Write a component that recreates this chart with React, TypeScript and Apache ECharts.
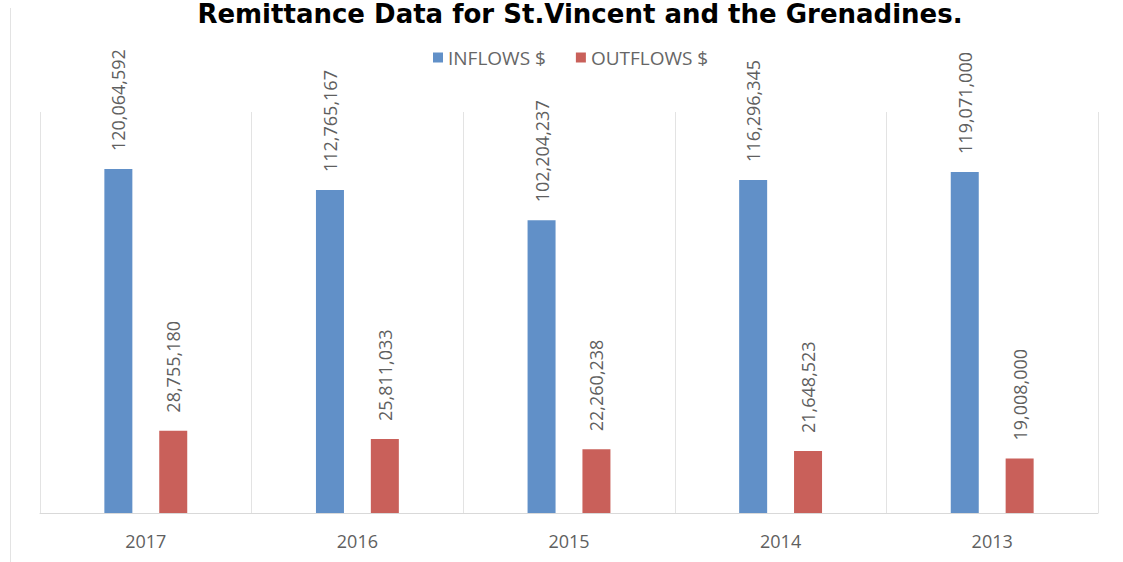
import React, { useEffect, useRef } from "react";
import * as echarts from "echarts";

const categories = ["2017", "2016", "2015", "2014", "2013"];
const inflows = [120064592, 112765167, 102204237, 116296345, 119071000];
const outflows = [28755180, 25811033, 22260238, 21648523, 19008000];
const seriesNames = ["INFLOWS $", "OUTFLOWS $"];
const titleText = "Remittance Data for St.Vincent and the Grenadines.";

const fmt = (v: number) => v.toLocaleString("en-US");

export default function App() {
  const ref = useRef<HTMLDivElement>(null);
  useEffect(() => {
    document.body.style.margin = "0";
    const chart = echarts.init(ref.current!, undefined, { renderer: "svg" });
    const labelStyle = {
      show: true,
      position: "top" as const,
      rotate: 90,
      align: "left",
      verticalAlign: "middle",
      distance: 18,
      color: "#5f5f5f",
      fontFamily: "Open Sans",
      fontSize: 18,
      formatter: (p: any) => fmt(p.value),
    };
    chart.setOption({
      animation: false,
      backgroundColor: "#ffffff",
      graphic: [
        {
          type: "text",
          style: {
            text: titleText,
            x: 580,
            y: 1,
            align: "center",
            verticalAlign: "top",
            fontFamily: "DejaVu Sans",
            fontWeight: "bold",
            fontSize: 26,
            fill: "#000000",
          },
        },
        {
          type: "line",
          shape: { x1: 10.5, y1: 8, x2: 10.5, y2: 562 },
          style: { stroke: "#e3e3e3", lineWidth: 1 },
        },
      ],
      legend: {
        data: seriesNames,
        left: 428,
        top: 43,
        icon: "rect",
        itemWidth: 10,
        itemHeight: 10,
        itemGap: 30,
        textStyle: { color: "#666666", fontFamily: "Open Sans", fontSize: 19 },
      },
      grid: { left: 40, right: 25, top: 112, bottom: 49 },
      xAxis: {
        type: "category",
        data: categories,
        axisLine: { lineStyle: { color: "#d9d9d9" } },
        axisTick: { show: false },
        axisLabel: {
          color: "#5f5f5f",
          fontFamily: "Open Sans",
          fontSize: 18,
          margin: 19,
        },
        splitLine: { show: true, interval: 0, lineStyle: { color: "#e3e3e3" } },
      },
      yAxis: {
        type: "value",
        min: 0,
        max: 140000000,
        show: false,
        splitLine: { show: false },
      },
      series: [
        {
          name: seriesNames[0],
          type: "bar",
          data: inflows,
          barWidth: 28,
          barGap: "96%",
          itemStyle: { color: "#6190c8" },
          label: labelStyle,
        },
        {
          name: seriesNames[1],
          type: "bar",
          data: outflows,
          barWidth: 28,
          itemStyle: { color: "#c9605a" },
          label: labelStyle,
        },
      ],
    });
    return () => chart.dispose();
  }, []);
  return (
    <div
      ref={ref}
      style={{ position: "absolute", left: 0, top: 0, width: 1123, height: 562 }}
    />
  );
}
